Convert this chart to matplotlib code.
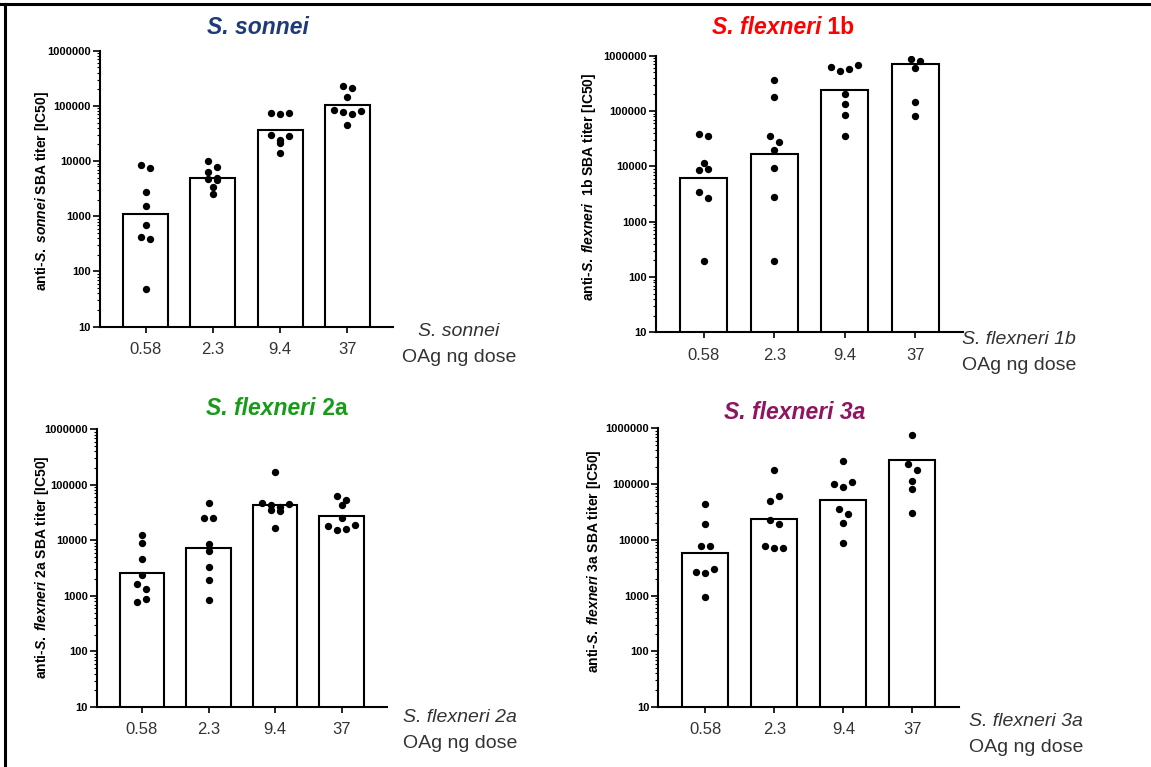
import numpy as np
import matplotlib
matplotlib.use("Agg")
import matplotlib.pyplot as plt
from matplotlib.lines import Line2D
from matplotlib.ticker import LogLocator, FixedFormatter, FixedLocator, NullFormatter

plt.rcParams['font.family'] = ['Liberation Sans', 'DejaVu Sans']
plt.rcParams['mathtext.fontset'] = 'custom'
plt.rcParams['mathtext.it'] = 'Liberation Sans:italic:bold'
plt.rcParams['mathtext.rm'] = 'Liberation Sans:bold'
plt.rcParams['mathtext.bf'] = 'Liberation Sans:bold'

# ---------------- data ----------------
doses = ["0.58", "2.3", "9.4", "37"]

sonnei_bars = [1080, 5000, 36600, 102000]
sonnei_pts = [
    [8500, 7600, 2700, 1540, 690, 415, 393, 49],
    [10000, 7800, 6400, 4730, 4480, 5000, 3390, 2500],
    [73000, 72300, 73000, 30000, 23800, 21600, 28400, 13800],
    [229000, 208000, 143000, 83000, 78500, 71300, 79400, 44400],
]

flex1b_bars = [6240, 16900, 240000, 716000]
flex1b_pts = [
    [39000, 34800, 11600, 8700, 8800, 3480, 2680, 197],
    [368000, 181000, 35300, 27200, 20000, 9200, 2830, 197],
    [632000, 521000, 566000, 668000, 203000, 134000, 84700, 35300],
    [871000, 790000, 602000, 146000, 82400],
]

flex2a_bars = [2590, 7400, 43400, 27500]
flex2a_pts = [
    [12300, 8850, 4690, 2420, 1660, 1350, 767, 881],
    [47800, 25300, 25300, 8610, 6350, 3320, 1910, 845],
    [171000, 47800, 44000, 39900, 45200, 35200, 34300, 16700],
    [64000, 52700, 42800, 25600, 18100, 15400, 16000, 19200],
]

flex3a_bars = [5720, 23900, 52500, 267000]
flex3a_pts = [
    [43300, 19400, 7850, 7850, 2610, 2540, 2990, 942],
    [179000, 49000, 60200, 22600, 19000, 7740, 7130, 7230],
    [263000, 102000, 89800, 110000, 36200, 29000, 20300, 8770],
    [749000, 229000, 179000, 112000, 80500, 30700],
]

ytick_vals = [10, 100, 1000, 10000, 100000, 1000000]
ytick_labels = ["10", "100", "1000", "10000", "100000", "1000000"]

W, H = 1151, 767
fig = plt.figure(figsize=(W / 100, H / 100), dpi=100)
renderer = fig.canvas.get_renderer()


def fx(x):
    return x / W


def fy(y):
    return 1 - y / H


def rich_title(cx, cy, parts, color, size=16.5):
    """Draw horizontally concatenated text parts [(text, style)], centred at (cx, cy) px."""
    arts = []
    for txt, style in parts:
        t = fig.text(0, fy(cy), txt, color=color, fontsize=size, fontweight='bold',
                     fontstyle=style, ha='left', va='baseline')
        arts.append(t)
    widths = [a.get_window_extent(renderer).width for a in arts]
    total = sum(widths)
    x = cx - total / 2
    for a, w in zip(arts, widths):
        a.set_x(fx(x))
        x += w


def swarm_offsets(vals, px_per_unit, px_per_dec, dot_px=6.5, step_px=9.0):
    """Arrange points into rows (GraphPad-like scatter) and return x offsets."""
    vals = np.asarray(vals, dtype=float)
    ypx = np.log10(vals) * px_per_dec
    order = np.argsort(-ypx)
    offsets = np.zeros(len(vals))
    rows = []
    for i in order:
        if rows and abs(ypx[rows[-1][0]] - ypx[i]) < dot_px:
            rows[-1].append(i)
        else:
            rows.append([i])
    for row in rows:
        n = len(row)
        for j, k in enumerate(sorted(row)):
            offsets[k] = (j - (n - 1) / 2) * step_px / px_per_unit
    return offsets


def panel(rect_px, bars, pts, title_parts, title_xy, title_color,
          ylabel, ylabel_xy, xnote, xnote_xy):
    left, top, right, bottom = rect_px
    ax = fig.add_axes([fx(left), fy(bottom), fx(right - left), (bottom - top) / H])
    x = np.arange(len(doses))
    ax.bar(x, bars, width=0.67, bottom=0, color='white', edgecolor='black',
           linewidth=1.5, zorder=2)
    px_per_unit = (right - left) / 4.36
    px_per_dec = (bottom - top) / 5.0
    for i, grp in enumerate(pts):
        off = swarm_offsets(grp, px_per_unit, px_per_dec)
        ax.scatter(x[i] + off, grp, s=28, color='black', zorder=3, linewidths=0)
    ax.set_yscale('log')
    ax.set_ylim(10, 1e6)
    ax.set_xlim(-0.68, 3.68)
    ax.yaxis.set_major_locator(FixedLocator(ytick_vals))
    ax.yaxis.set_major_formatter(FixedFormatter(ytick_labels))
    ax.yaxis.set_minor_locator(LogLocator(base=10, subs=np.arange(2, 10), numticks=20))
    ax.yaxis.set_minor_formatter(NullFormatter())
    ax.set_xticks(x)
    ax.set_xticklabels(doses)
    for s in ['top', 'right']:
        ax.spines[s].set_visible(False)
    for s in ['left', 'bottom']:
        ax.spines[s].set_linewidth(1.5)
    ax.tick_params(axis='y', which='major', length=5, width=1.2, labelsize=8,
                   pad=1.5, direction='out')
    ax.tick_params(axis='y', which='minor', length=2.5, width=0.8, direction='out')
    for lab in ax.get_yticklabels():
        lab.set_fontweight('bold')
    ax.tick_params(axis='x', length=4, width=1.2, labelsize=12, pad=7,
                   labelcolor='#333333')
    ax.set_facecolor('none')

    rich_title(title_xy[0], title_xy[1], title_parts, title_color)
    fig.text(fx(ylabel_xy[0]), fy(ylabel_xy[1]), ylabel, rotation=90,
             fontsize=10, fontweight='bold', ha='center', va='center')
    fig.text(fx(xnote_xy[0]), fy(xnote_xy[1]), xnote, fontsize=14,
             fontstyle='italic', color='#333333', ha='center', va='center')
    fig.text(fx(xnote_xy[0]), fy(xnote_xy[1] + 26), "OAg ng dose", fontsize=14,
             color='#333333', ha='center', va='center')
    return ax


panel((100, 50.7, 393, 326.7), sonnei_bars, sonnei_pts,
      [("S. sonnei", 'italic')], (258, 34), '#1F3A78',
      r"anti-$\mathit{S.}\;\mathit{sonnei}$ SBA titer [IC50]", (42, 191),
      "S. sonnei", (459, 332))

panel((656, 55.7, 963, 332.3), flex1b_bars, flex1b_pts,
      [("S. flexneri", 'italic'), (" 1b", 'normal')], (783, 34), '#FF0000',
      r"anti-$\mathit{S.}\;\mathit{flexneri}$  1b SBA titer [IC50]", (589, 187),
      "S. flexneri 1b", (1019, 340))

panel((96.7, 429.3, 387, 707), flex2a_bars, flex2a_pts,
      [("S. flexneri", 'italic'), (" 2a", 'normal')], (277, 415), '#1A9A1A',
      r"anti-$\mathit{S.}\;\mathit{flexneri}$ 2a SBA titer [IC50]", (42, 567),
      "S. flexneri 2a", (460, 718))

panel((658.3, 428.3, 959.3, 707), flex3a_bars, flex3a_pts,
      [("S. flexneri 3a", 'italic')], (795, 419), '#8E1561',
      r"anti-$\mathit{S.}\;\mathit{flexneri}$ 3a SBA titer [IC50]", (594, 561),
      "S. flexneri 3a", (1026, 721))

# figure frame (top and left edges)
fig.add_artist(Line2D([0, 1], [fy(3.5), fy(3.5)], color='black', linewidth=2.2,
                      transform=fig.transFigure))
fig.add_artist(Line2D([fx(4.5), fx(4.5)], [0, fy(3.5)], color='black', linewidth=2.2,
                      transform=fig.transFigure))

fig.savefig("out.png", dpi=100)
